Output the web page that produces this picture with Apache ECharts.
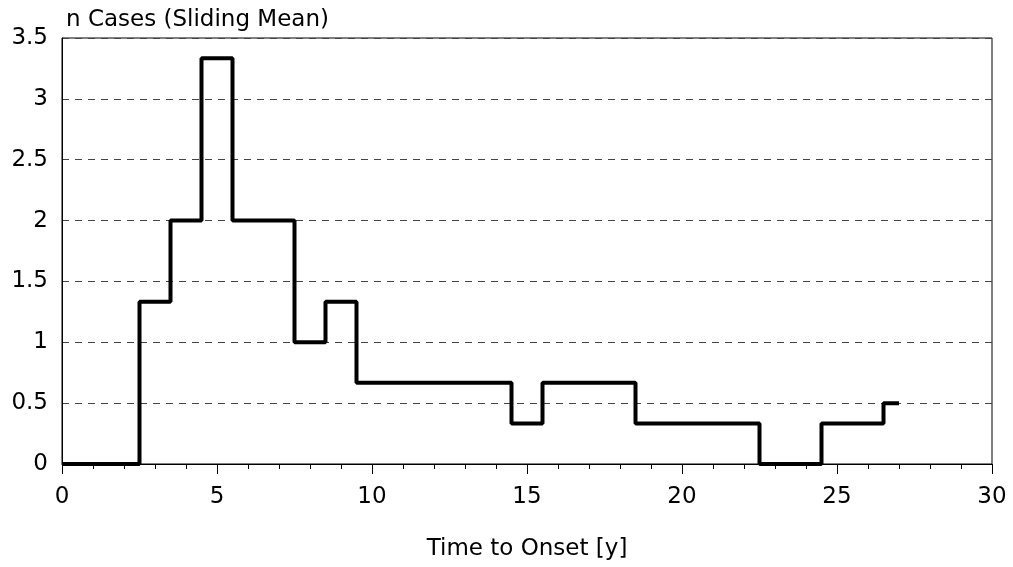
<!DOCTYPE html>
<html><head><meta charset="utf-8">
<script src="https://cdn.jsdelivr.net/npm/echarts@6/dist/echarts.min.js"></script>
<style>html,body{margin:0;padding:0;background:#fff}#c{width:1013px;height:567px}</style>
</head><body><div id="c"></div>
<script>
const xValues = [0,1,2,3,4,5,6,7,8,9,10,11,12,13,14,15,16,17,18,19,20,21,22,23,24,25,26,27];
const yValues = [0,0,0,1.333,2,3.333,2,2,1,1.333,0.667,0.667,0.667,0.667,0.667,0.333,0.667,0.667,0.667,0.333,0.333,0.333,0.333,0,0,0.333,0.333,0.5];
const yTickLabels = ['0','0.5','1','1.5','2','2.5','3','3.5'];
const xTickLabels = ['0','5','10','15','20','25','30'];
const font = 'DejaVu Sans, sans-serif';
const fs = 23;
const chart = echarts.init(document.getElementById('c'));
chart.setOption({
  animation:false,
  title:{text:'n Cases (Sliding Mean)',left:61,top:4,textStyle:{fontFamily:font,fontSize:fs,fontWeight:'normal',color:'#000'}},
  grid:{left:62,right:21,top:38,bottom:103,show:true,borderColor:'#000',borderWidth:1,containLabel:false,outerBoundsMode:'none'},
  xAxis:{type:'value',min:0,max:30,interval:5,
    name:'Time to Onset [y]',nameLocation:'middle',nameGap:74,
    nameTextStyle:{fontFamily:font,fontSize:fs,color:'#000'},
    axisLine:{show:true,lineStyle:{color:'#000',width:1}},
    axisTick:{show:true,length:10,lineStyle:{color:'#000'}},
    minorTick:{show:true,splitNumber:5,length:5,lineStyle:{color:'#000'}},
    splitLine:{show:false},
    axisLabel:{fontFamily:font,fontSize:fs,color:'#000',margin:22,formatter:v=>xTickLabels[Math.round(v/5)]}
  },
  yAxis:{type:'value',min:0,max:3.5,interval:0.5,
    axisLine:{show:true,lineStyle:{color:'#000',width:1}},
    axisTick:{show:false},
    splitLine:{show:true,lineStyle:{color:'#444',type:[7,6],width:1}},
    axisLabel:{fontFamily:font,fontSize:fs,color:'#000',margin:14,formatter:v=>yTickLabels[Math.round(v*2)]}
  },
  series:[{type:'line',step:'middle',symbol:'none',
    data:xValues.map((x,i)=>[x,yValues[i]]),
    lineStyle:{color:'#000',width:4},z:5}]
});
</script></body></html>
